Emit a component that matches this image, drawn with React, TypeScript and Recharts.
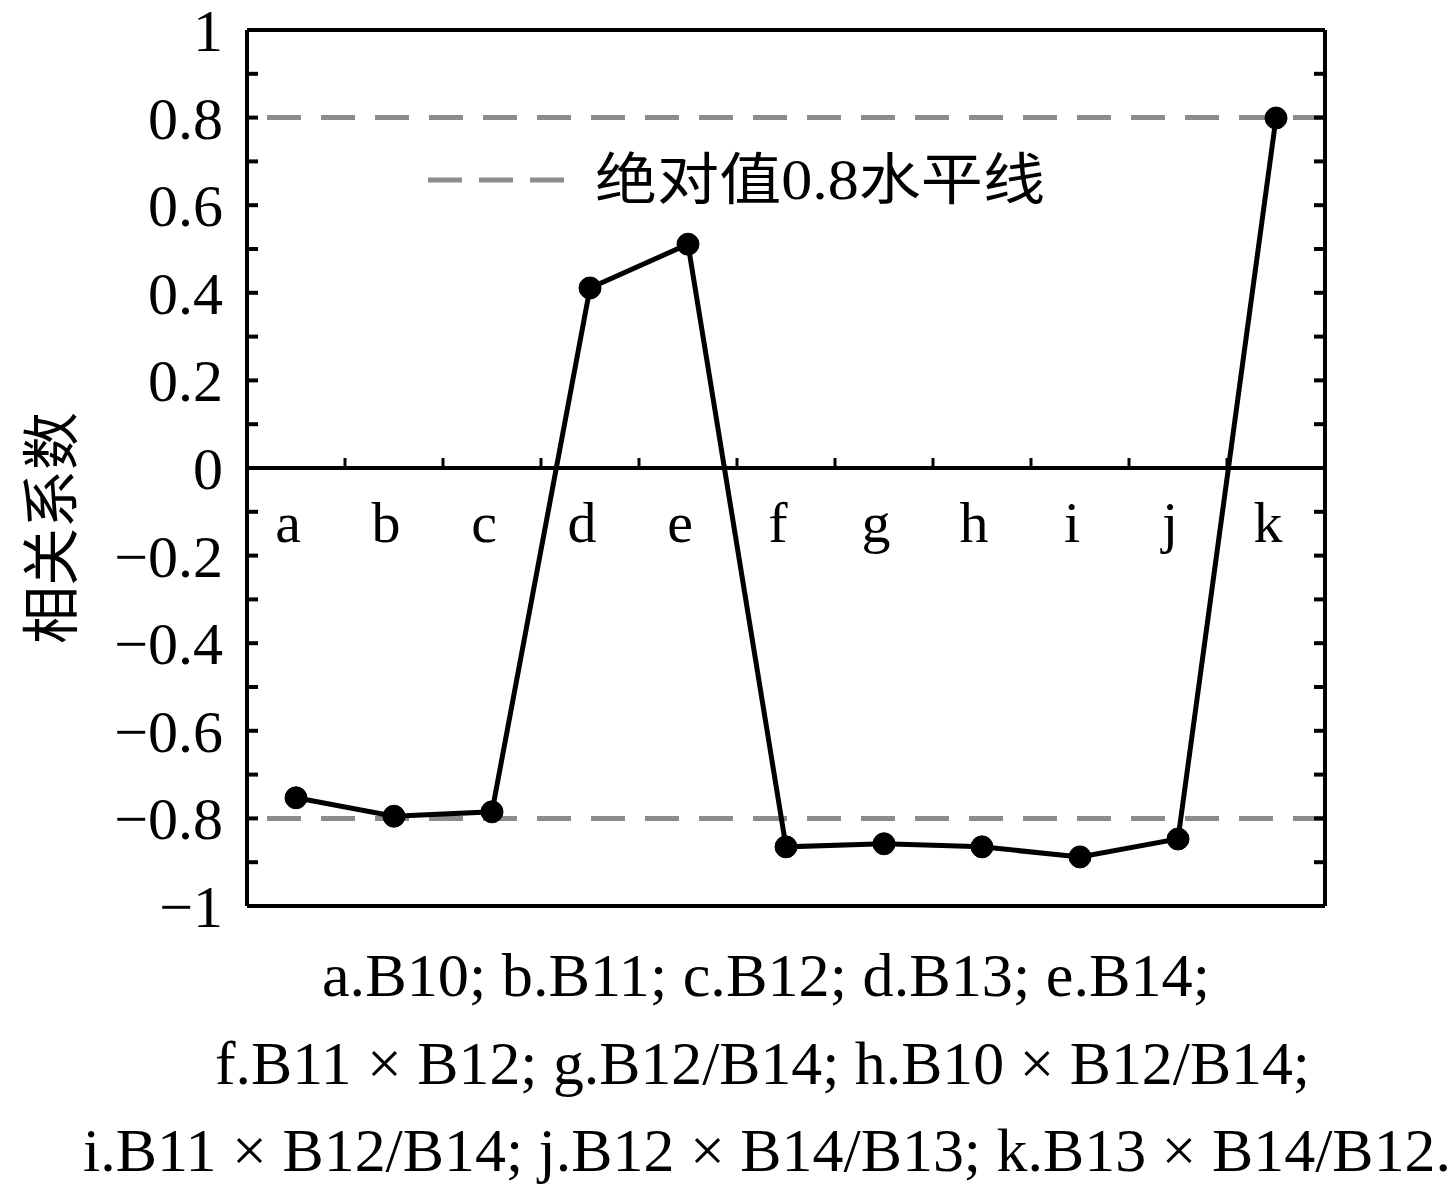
import { LineChart, Line, XAxis, YAxis, ReferenceLine, Label } from "recharts";

const categories = ["a", "b", "c", "d", "e", "f", "g", "h", "i", "j", "k"];
const coefficients = [-0.753, -0.795, -0.785, 0.411, 0.511, -0.865, -0.858, -0.865, -0.888, -0.847, 0.799];
const yTicks = [-1, -0.9, -0.8, -0.7, -0.6, -0.5, -0.4, -0.3, -0.2, -0.1, 0, 0.1, 0.2, 0.3, 0.4, 0.5, 0.6, 0.7, 0.8, 0.9, 1];
const thresholds = [0.8, -0.8];
const legendLabel = "绝对值0.8水平线";
const yLabel = "相关系数";
const captionLines = [
  "a.B10; b.B11; c.B12; d.B13; e.B14;",
  "f.B11 × B12; g.B12/B14; h.B10 × B12/B14;",
  "i.B11 × B12/B14; j.B12 × B14/B13; k.B13 × B14/B12.",
];

const data = categories.map((name, i) => ({ name, value: coefficients[i] }));

const W = 1454;
const H = 930;
const PLOT_LEFT = 247;
const PLOT_RIGHT = 1325;
const PLOT_TOP = 30;
const PLOT_BOTTOM = 906;
const ZERO_Y = (PLOT_TOP + PLOT_BOTTOM) / 2;
const BAND = (PLOT_RIGHT - PLOT_LEFT) / categories.length;

const serif = "'Liberation Serif', 'Times New Roman', serif";
const cjk = "'Liberation Serif', 'Noto Sans CJK SC', serif";

const fmt = (v: number) => {
  if (v === 0) return "0";
  const s = Math.abs(v).toString();
  return v < 0 ? "\u2212" + s : s;
};

const isMajor = (v: number) => Math.round(v * 10) % 2 === 0;

// left labels plus inward ticks on both frame sides
function YTick(props: any) {
  const { y, payload } = props;
  const v = payload.value;
  const edge = Math.abs(v) === 1;
  return (
    <g>
      {!edge && (
        <>
          <line x1={PLOT_LEFT} x2={PLOT_LEFT + 11} y1={y} y2={y} stroke="#000" strokeWidth={4} />
          <line x1={PLOT_RIGHT - 11} x2={PLOT_RIGHT} y1={y} y2={y} stroke="#000" strokeWidth={4} />
        </>
      )}
      {isMajor(v) && (
        <text x={PLOT_LEFT - 24} y={y} dy="0.35em" textAnchor="end" fontFamily={serif} fontSize={60} fill="#000">
          {fmt(v)}
        </text>
      )}
    </g>
  );
}

function CategoryTick(props: any) {
  const { x, index, payload } = props;
  return (
    <g>
      {index > 0 && (
        <line x1={x - BAND / 2} x2={x - BAND / 2} y1={ZERO_Y} y2={ZERO_Y - 10} stroke="#000" strokeWidth={3} />
      )}
      <text x={x - 8} y={ZERO_Y + 74} textAnchor="middle" fontFamily={serif} fontSize={58} fill="#000">
        {payload.value}
      </text>
    </g>
  );
}

function YAxisTitle(props: any) {
  const { viewBox } = props;
  const cy = viewBox.y + viewBox.height / 2 + 60;
  return (
    <text
      x={52}
      y={cy}
      transform={`rotate(-90, 52, ${cy})`}
      textAnchor="middle"
      dominantBaseline="central"
      fontFamily={cjk}
      fontSize={58}
      fill="#000"
    >
      {yLabel}
    </text>
  );
}

export default function App() {
  return (
    <div style={{ position: "absolute", left: 0, top: 0, width: W, height: 1191, background: "#fff" }}>
      <LineChart
        width={W}
        height={H}
        data={data}
        margin={{ top: PLOT_TOP - 1, right: W - PLOT_RIGHT - 1, bottom: H - PLOT_BOTTOM - 1, left: 0 }}
      >
        <XAxis
          dataKey="name"
          height={1}
          padding={{ left: BAND / 2, right: BAND / 2 }}
          axisLine={{ stroke: "#000", strokeWidth: 4 }}
          tickLine={false}
          tick={<CategoryTick />}
          interval={0}
        />
        <XAxis
          xAxisId="top"
          dataKey="name"
          orientation="top"
          height={1}
          axisLine={{ stroke: "#000", strokeWidth: 4 }}
          tickLine={false}
          tick={false}
        />
        <YAxis
          domain={[-1, 1]}
          ticks={yTicks}
          interval={0}
          width={PLOT_LEFT}
          axisLine={{ stroke: "#000", strokeWidth: 4 }}
          tickLine={false}
          tick={<YTick />}
        >
          <Label content={<YAxisTitle />} />
        </YAxis>
        <YAxis
          yAxisId="right"
          orientation="right"
          domain={[-1, 1]}
          width={1}
          axisLine={{ stroke: "#000", strokeWidth: 4 }}
          tickLine={false}
          tick={false}
        />
        <ReferenceLine y={0} stroke="#000" strokeWidth={4} />
        {thresholds.map((t) => (
          <ReferenceLine key={t} y={t} stroke="#8c8c8c" strokeWidth={5} strokeDasharray="34 20" strokeDashoffset={34} />
        ))}
        <Line
          dataKey="value"
          stroke="#000"
          strokeWidth={5}
          dot={{ r: 11, fill: "#000", stroke: "#000", strokeWidth: 1 }}
          isAnimationActive={false}
        />
      </LineChart>
      <svg width={W} height={1191} style={{ position: "absolute", left: 0, top: 0, pointerEvents: "none" }}>
        <line x1={428} x2={565} y1={180} y2={180} stroke="#8c8c8c" strokeWidth={5} strokeDasharray="34 17" />
        <text x={595} y={199} fontFamily={cjk} fontSize={56} fill="#000" textLength={450} lengthAdjust="spacingAndGlyphs">
          {legendLabel}
        </text>
        <text x={322} y={996} fontFamily={serif} fontSize={62} fill="#000" textLength={888} lengthAdjust="spacingAndGlyphs">
          {captionLines[0]}
        </text>
        <text x={215} y={1084} fontFamily={serif} fontSize={62} fill="#000" textLength={1095} lengthAdjust="spacingAndGlyphs">
          {captionLines[1]}
        </text>
        <text x={83} y={1171} fontFamily={serif} fontSize={62} fill="#000" textLength={1368} lengthAdjust="spacingAndGlyphs">
          {captionLines[2]}
        </text>
      </svg>
    </div>
  );
}
